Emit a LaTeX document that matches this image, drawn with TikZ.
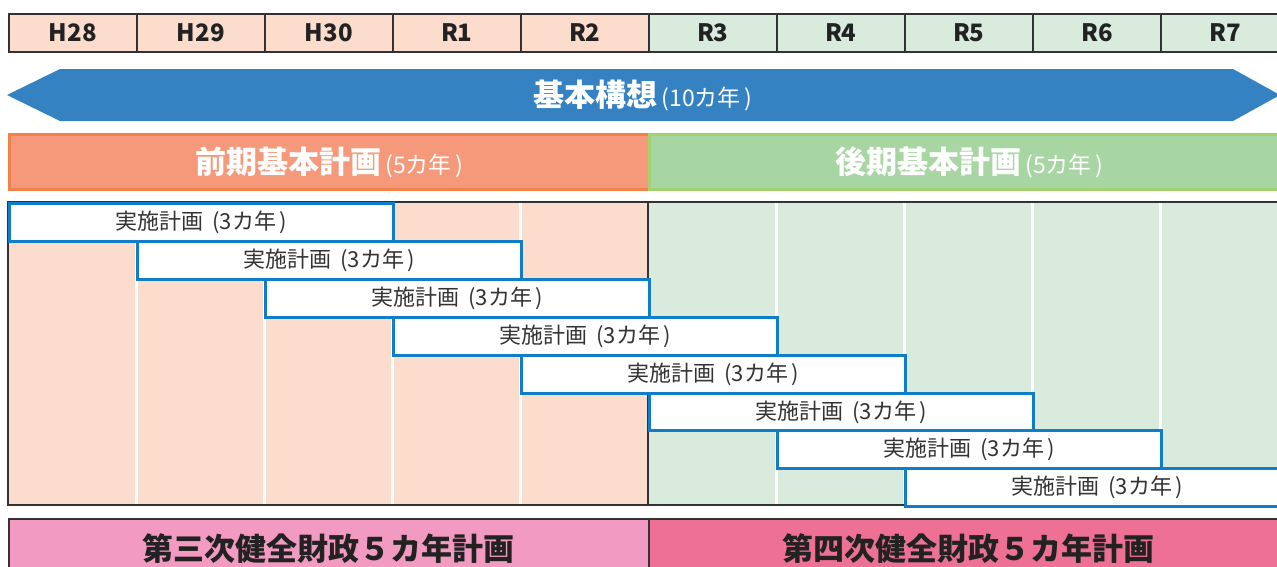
\documentclass[tikz,border=0pt]{standalone}
\usepackage{fontspec}
\setmainfont{Noto Sans CJK JP}
\definecolor{dark}{HTML}{333333}
\definecolor{txt}{HTML}{222222}
\definecolor{hpink}{HTML}{FCDCCD}
\definecolor{hgreen}{HTML}{D9EBDD}
\definecolor{arrowblue}{HTML}{3582C3}
\definecolor{frontfill}{HTML}{F5997A}
\definecolor{frontline}{HTML}{F2814A}
\definecolor{backfill}{HTML}{A8D6A3}
\definecolor{backline}{HTML}{A2D16E}
\definecolor{barblue}{HTML}{0F7DC8}
\definecolor{pinkA}{HTML}{F29AC2}
\definecolor{pinkB}{HTML}{EF7095}
\newcommand{\paren}[1]{{\fontsize{23}{23}\selectfont\mdseries\,(#1\,)}}
\begin{document}
\begin{tikzpicture}[x=1pt,y=-1pt,
  yr/.style={draw=dark, line width=1.6pt, minimum width=128pt, minimum height=38pt,
    anchor=north west, inner sep=0pt, text=txt,
    font=\fontsize{24}{24}\selectfont\bfseries},
  phase/.style={line width=3pt, minimum height=55pt, anchor=north west, inner sep=0pt,
    text=white, font=\fontsize{31}{31}\selectfont\bfseries},
  impl/.style={draw=barblue, line width=3pt, fill=white, minimum width=384pt,
    minimum height=37.9pt, anchor=north west, inner sep=0pt, text=dark,
    font=\fontsize{22}{22}\selectfont},
  fin/.style={draw=dark, line width=1.6pt, minimum width=640pt, minimum height=60pt,
    anchor=north west, inner sep=0pt, text=txt,
    font=\fontsize{31}{31}\selectfont\bfseries}
]
\useasboundingbox (0,0) rectangle (1277,566);
\clip (0,0) rectangle (1277,566);

% year header
\foreach \i/\t in {0/H28,1/H29,2/H30,3/R1,4/R2}
  \node[yr, fill=hpink] (y\i) at (8+128*\i,13) {\t};
\foreach \i/\t in {5/R3,6/R4,7/R5,8/R6,9/R7}
  \node[yr, fill=hgreen] (y\i) at (8+128*\i,13) {\t};

% basic concept arrow
\fill[arrowblue] (7,95) -- (60,69) -- (1233,69) -- (1280,95) -- (1233,121) -- (60,121) -- cycle;
\node[text=white, inner sep=0pt, font=\fontsize{31}{31}\selectfont\bfseries] (concept) at (643,95)
  {基本構想\paren{10カ年}};

% phase bars
\node[phase, draw=frontline, fill=frontfill, minimum width=640pt] (front) at (8,133)
  {前期基本計画\paren{5カ年}};
\node[phase, draw=backline, fill=backfill, minimum width=640pt] (back) at (648,133)
  {後期基本計画\paren{5カ年}};

% gantt background
\fill[hpink] (8,202) rectangle (648,505);
\fill[hgreen] (648,202) rectangle (1290,505);
\foreach \k in {1,2,3,4,6,7,8,9}
  \draw[white, line width=3pt] (8+128*\k,202) -- (8+128*\k,505);
\draw[dark, line width=1.6pt] (1290,202) -- (8,202) -- (8,505) -- (1290,505);
\draw[dark, line width=1.6pt] (648,202) -- (648,505);

% implementation plans
\foreach \i in {0,...,7}
  \node[impl] (p\i) at (8+128*\i,202+37.9*\i) {実施計画\ \,(3カ年\,)};

% financial plans
\node[fin, fill=pinkA] (fin3) at (8,518) {第三次健全財政５カ年計画};
\node[fin, fill=pinkB] (fin4) at (648,518) {第四次健全財政５カ年計画};
\end{tikzpicture}
\end{document}
